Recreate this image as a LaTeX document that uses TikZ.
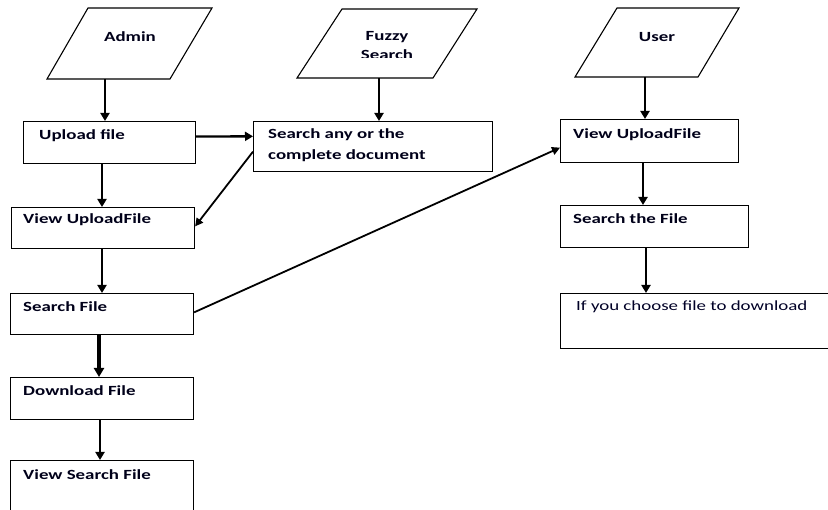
\documentclass[tikz,border=0pt]{standalone}
\usepackage{fontspec}
\newfontfamily\lbl{Carlito}[FakeStretch=1.35]
\usetikzlibrary{arrows.meta,calc}
\tikzset{
  box/.style={draw, line width=1.1pt, anchor=north west, inner sep=0pt},
  para/.style={draw, line width=1.1pt},
  txt/.style={anchor=west, inner sep=0pt, font=\lbl\bfseries\fontsize{14}{17}\selectfont, text=black!90!blue},
  ctxt/.style={anchor=center, inner sep=0pt, font=\lbl\bfseries\fontsize{14}{17}\selectfont, text=black!90!blue},
  rtxt/.style={anchor=west, inner sep=0pt, font=\lbl\fontsize{14}{17}\selectfont, text=black!85!blue},
  arr/.style={line width=2.3pt, -{Triangle[length=8pt,width=9pt]}},
  thinarr/.style={line width=1.8pt, -{Triangle[length=8pt,width=8pt]}},
}
\begin{document}
\begin{tikzpicture}[x=1pt,y=-1pt]
\useasboundingbox (0,0) rectangle (828,510);

% parallelograms
\draw[para] (88,8) -- (212,8) -- (170,79) -- (47,79) -- cycle;
\node[ctxt] (admin) at (130,37) {Admin};
\coordinate (adminB) at (105,79);

\draw[para] (342,9) -- (477,9) -- (433,78) -- (297,78) -- cycle;
\begin{scope}
\clip (300,9) rectangle (470,57.5);
\node[ctxt] (fuzzy) at (387,37) {Fuzzy};
\node[ctxt] (fuzzy2) at (387,55) {Search};
\end{scope}
\coordinate (fuzzyB) at (379,78);

\draw[para] (617,8) -- (739,8) -- (698,77) -- (575,77) -- cycle;
\node[ctxt] (user) at (657,37) {User};
\coordinate (userB) at (645,77);

% left column
\node[box, minimum width=172pt, minimum height=42pt] (upload) at (23,121) {};
\node[txt] (uploadT) at (39,136) {Upload file};

\node[box, minimum width=239pt, minimum height=50pt] (search) at (253,121) {};
\node[txt] (searchT1) at (268,135) {Search any or the};
\node[txt] (searchT2) at (268,156) {complete document};

\node[box, minimum width=183pt, minimum height=41pt] (viewL) at (11,207) {};
\node[txt] (viewLT) at (23,220) {View UploadFile};

\node[box, minimum width=183pt, minimum height=41pt] (sfile) at (10,293) {};
\node[txt] (sfileT) at (23,307) {Search File};

\node[box, minimum width=183pt, minimum height=42pt] (dl) at (10,377) {};
\node[txt] (dlT) at (23,391) {Download File};

\node[box, minimum width=183pt, minimum height=70pt] (vsf) at (10,460) {};
\node[txt] (vsfT) at (23,475) {View Search File};

% right column
\node[box, minimum width=178pt, minimum height=43pt] (viewR) at (560,119) {};
\node[txt] (viewRT) at (573,135) {View UploadFile};

\node[box, minimum width=188pt, minimum height=42pt] (sthe) at (560,205) {};
\node[txt] (stheT) at (573,219) {Search the File};

\node[box, minimum width=267.5pt, minimum height=55pt] (choose) at (560,293) {};
\node[rtxt] (chooseT) at (576,307) {If you choose file to download};

% connectors
\draw[arr] (adminB) -- (adminB |- upload.north);
\draw[arr] (fuzzyB) -- (fuzzyB |- search.north);
\draw[arr] (userB) -- (userB |- viewR.north);

\draw[arr] ($(upload.north east)!0.36!(upload.south east)$) -- ($(search.north west)!0.3!(search.south west)$);
\draw[arr] ([xshift=79pt]upload.south west) -- ([xshift=91pt]viewL.north west);
\draw[thinarr] ($(search.north west)!0.6!(search.south west)$) -- ($(viewL.north east)!0.46!(viewL.south east)$);
\draw[arr] ([xshift=91pt]viewL.south west) -- ([xshift=92pt]sfile.north west);
\draw[line width=3.2pt, -{Triangle[length=9pt,width=10pt]}] ([xshift=89pt]sfile.south west) -- ([xshift=89pt]dl.north west);
\draw[arr] ([xshift=90pt]dl.south west) -- ([xshift=90pt]vsf.north west);
\draw[thinarr] ($(sfile.north east)!0.46!(sfile.south east)$) -- ($(viewR.north west)!0.65!(viewR.south west)$);

\draw[arr] ([xshift=83pt]viewR.south west) -- ([xshift=83pt]sthe.north west);
\draw[arr] ([xshift=86pt]sthe.south west) -- ([xshift=86pt]choose.north west);
\end{tikzpicture}
\end{document}
